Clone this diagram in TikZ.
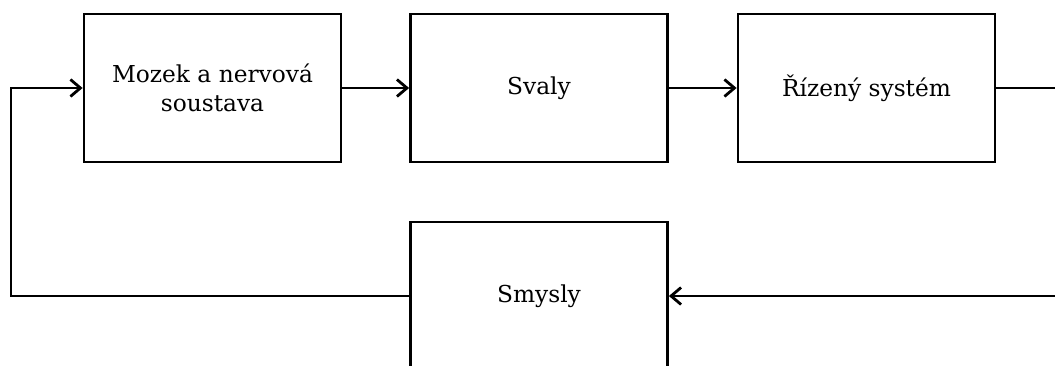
\documentclass[tikz,border=0pt]{standalone}
\usepackage{fontspec}
\setmainfont{DejaVu Serif}
\usetikzlibrary{arrows.meta}
\begin{document}
\begin{tikzpicture}[x=1pt,y=-1pt,
  blk/.style={draw=black,line width=2.8pt,fill=white,minimum width=257pt,minimum height=148pt,align=center,inner sep=0pt,font=\fontsize{23.3}{29}\selectfont},
  conn/.style={line width=2.8pt,-{Straight Barb[length=10pt,width=17pt,line width=2.8pt]}},
  plain/.style={line width=2.8pt}]
\clip (0,0) rectangle (1055,365);
\useasboundingbox (0,0) rectangle (1055,365);
\node[blk] (mozek) at (212.5,88) {Mozek a nervová\\soustava};
\node[blk] (svaly) at (539,88) {Svaly};
\node[blk] (rizeny) at (866.5,88) {Řízený systém};
\node[blk] (smysly) at (539,296) {Smysly};
\coordinate (r1) at (1060,88);
\coordinate (r2) at (1060,296);
\coordinate (l1) at (11,296);
\coordinate (l2) at (11,88);
\draw[conn] (mozek) -- (svaly);
\draw[conn] (svaly) -- (rizeny);
\draw[plain] (rizeny.east) -- (r1);
\draw[conn] (r2) -- (smysly.east);
\draw[conn] (smysly.west) -- (l1) -- (l2) -- (mozek.west);
\end{tikzpicture}
\end{document}
